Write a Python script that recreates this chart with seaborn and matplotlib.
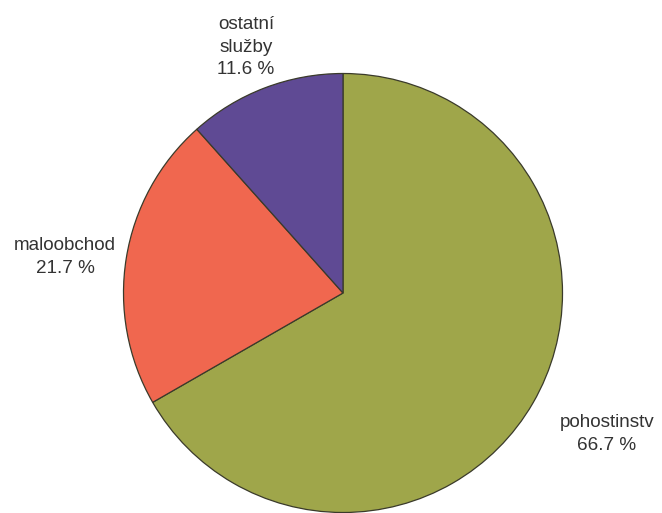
import matplotlib
matplotlib.use("Agg")
import matplotlib.pyplot as plt
import seaborn as sns

# Podíl provozoven podle odvětví
categories = ["pohostinstv", "maloobchod", "ostatní\nslužby"]
shares = [66.7, 21.7, 11.6]
colors = ["#9fa64a", "#f0674f", "#5f4a94"]

sns.set_theme(style="white")
plt.rcParams["font.family"] = ["Liberation Sans", "DejaVu Sans"]

fig = plt.figure(figsize=(6.62, 5.13), dpi=100)
ax = fig.add_axes([0, 0, 1, 1])

wedges, _ = ax.pie(
    shares,
    colors=colors,
    startangle=90,
    counterclock=False,
    center=(343, 220),
    radius=219.5,
    wedgeprops=dict(edgecolor="#3a3a2a", linewidth=0.9),
    frame=True,
)
ax.set_xlim(0, 662)
ax.set_ylim(0, 513)
ax.set_aspect("equal")
ax.axis("off")

label_pos = [(607, 79), (65, 256), (246, 466)]
for name, val, (x, y) in zip(categories, shares, label_pos):
    ax.text(x, y, f"{name}\n{val:.1f} %", ha="center", va="center",
            fontsize=13.6, color="#333333", linespacing=1.42)

fig.savefig("out.png", dpi=100)
